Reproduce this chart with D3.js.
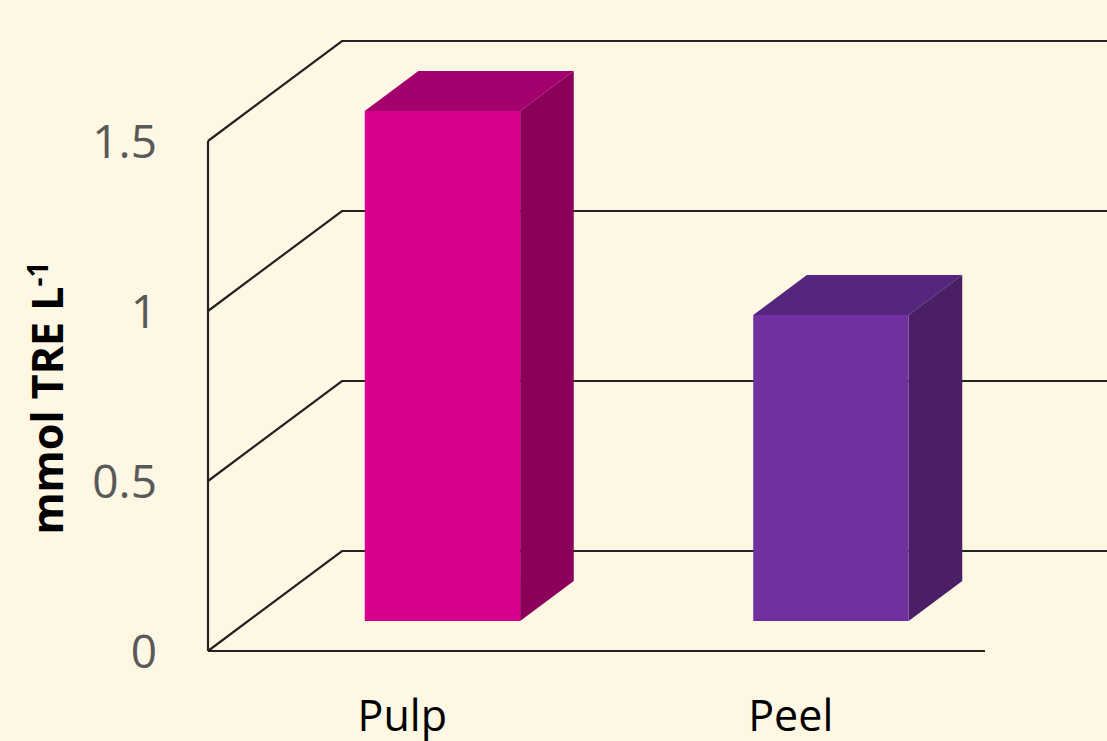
<!DOCTYPE html>
<html>
<head>
<meta charset="utf-8">
<script src="https://cdn.jsdelivr.net/npm/d3@7"></script>
<style>
  body { margin: 0; background: #fef7e4; }
  svg { display: block; }
</style>
</head>
<body>
<div id="chart-area"></div>
<script>
// data
var categories = ["Pulp", "Peel"];
var values = [1.5, 0.9];
var yTicks = [0, 0.5, 1, 1.5];
var tickLabels = ["0", "0.5", "1", "1.5"];
var frontColors = ["#d6008f", "#7030a0"];
var sideColors = ["#8a005b", "#4a1f66"];
var topColors = ["#a3006e", "#55267e"];

var width = 1107, height = 741;
var left = 208, right = 985;
var depthX = 134, depthY = 100;   // full depth of the floor
var zFront = 0.3, zBack = 0.7;    // where bars sit in depth

var svg = d3.select("#chart-area")
  .append("svg")
  .attr("width", width)
  .attr("height", height)
  .style("background", "#fef7e4");

var x = d3.scaleBand()
  .domain(categories)
  .range([left, right])
  .paddingInner(0.6)
  .paddingOuter(0.3);

var y = d3.scaleLinear()
  .domain([0, 1.5])
  .range([651, 141]);

var lineColor = "#222";

// left wall + back wall grid lines
var grid = svg.append("g");
yTicks.forEach(t => {
  grid.append("polyline")
    .attr("points", [
      [left, y(t)],
      [left + depthX, y(t) - depthY],
      [width + 5, y(t) - depthY]
    ].join(" "))
    .attr("fill", "none")
    .attr("stroke", lineColor)
    .attr("stroke-width", 2.2);
});

grid.append("line")
  .attr("x1", left).attr("x2", left)
  .attr("y1", y(0)).attr("y2", y(1.5))
  .attr("stroke", lineColor)
  .attr("stroke-width", 2.2);

grid.append("line")
  .attr("x1", left).attr("x2", right)
  .attr("y1", y(0)).attr("y2", y(0))
  .attr("stroke", lineColor)
  .attr("stroke-width", 2.2);

// bars
var bars = svg.append("g");
categories.forEach((c, i) => {
  var fx = x(c) + depthX * zFront;
  var bw = x.bandwidth();
  var yb = y(0) - depthY * zFront;
  var yt = y(values[i]) - depthY * zFront;
  var ddx = depthX * (zBack - zFront);
  var ddy = depthY * (zBack - zFront);

  // top face
  bars.append("polygon")
    .attr("points", [[fx, yt], [fx + ddx, yt - ddy], [fx + bw + ddx, yt - ddy], [fx + bw, yt]].join(" "))
    .attr("fill", topColors[i]);
  // side face
  bars.append("polygon")
    .attr("points", [[fx + bw, yt], [fx + bw + ddx, yt - ddy], [fx + bw + ddx, yb - ddy], [fx + bw, yb]].join(" "))
    .attr("fill", sideColors[i]);
  // front face
  bars.append("rect")
    .attr("x", fx)
    .attr("y", yt)
    .attr("width", bw)
    .attr("height", yb - yt)
    .attr("fill", frontColors[i]);
});

// y tick labels
svg.append("g").selectAll("text")
  .data(yTicks)
  .enter().append("text")
  .attr("x", 157)
  .attr("y", d => y(d))
  .attr("dy", "0.36em")
  .attr("text-anchor", "end")
  .attr("font-family", "Open Sans, sans-serif")
  .attr("font-size", "46px")
  .attr("fill", "#595959")
  .text((d, i) => tickLabels[i]);

// category labels
svg.append("g").selectAll("text")
  .data(categories)
  .enter().append("text")
  .attr("x", d => x(d) + x.bandwidth() / 2)
  .attr("y", 731)
  .attr("text-anchor", "middle")
  .attr("font-family", "Open Sans, sans-serif")
  .attr("font-size", "43px")
  .attr("fill", "#000")
  .text(d => d);

// y axis title
var yLabel = svg.append("text")
  .attr("transform", "translate(63, 398) rotate(-90)")
  .attr("text-anchor", "middle")
  .attr("font-family", "Open Sans, sans-serif")
  .attr("font-weight", "bold")
  .attr("font-size", "43px")
  .attr("fill", "#000");
yLabel.append("tspan").text("mmol TRE L");
yLabel.append("tspan")
  .attr("dy", "-0.55em")
  .attr("font-size", "28px")
  .text("-1");
</script>
</body>
</html>
